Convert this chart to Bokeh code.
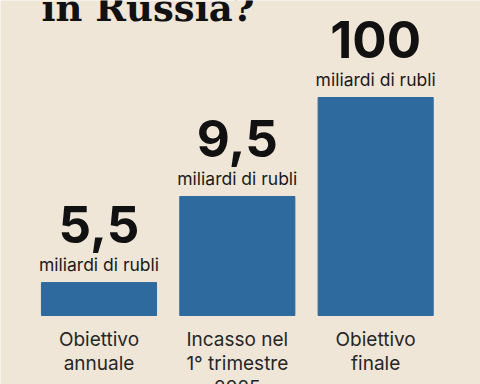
from bokeh.plotting import figure
from bokeh.models import Range1d, Label, ColumnDataSource
from bokeh.core.properties import value
from bokeh.embed import file_html
from bokeh.resources import INLINE

# Data
categories = ["Obiettivo\nannuale", "Incasso nel\n1° trimestre\n2025", "Obiettivo\nfinale"]
values = [5.5, 9.5, 100]
value_labels = ["5,5", "9,5", "100"]
unit_label = "miliardi di rubli"
# bar heights as drawn in the picture (tallest = 100)
bar_heights = [15.1, 54.6, 100]
title_visible = "in Russia?"

BG = "#f0e6d7"
BAR = "#2e6a9e"

xs = list(range(len(categories)))
src = ColumnDataSource(dict(
    x=xs, h=bar_heights, cat=categories, val=value_labels,
    unit=[unit_label] * len(xs), zero=[0] * len(xs),
))

p = figure(width=480, height=384, output_backend="svg", toolbar_location=None,
           x_range=Range1d(-0.712, 2.758), y_range=Range1d(-31.65, 144.5),
           min_border=0)
p.axis.visible = False
p.grid.visible = False
p.outline_line_color = None
p.background_fill_color = BG
p.border_fill_color = BG

p.vbar(x="x", top="h", bottom=0, width=0.832, source=src,
       fill_color=BAR, line_color=BAR)

p.text(x="x", y="h", text="unit", source=src, y_offset=-18,
       text_font=value("Inter"), text_font_size="17.5px", text_color="#1a1a1a",
       text_align="center", text_baseline="alphabetic")
p.text(x="x", y="h", text="val", source=src, y_offset=-58,
       text_font=value("Inter"), text_font_size="51px", text_font_style="bold",
       text_color="#111111", text_align="center", text_baseline="alphabetic")
p.text(x="x", y="zero", text="cat", source=src, y_offset=12,
       text_font=value("Inter"), text_font_size="19px", text_color="#262626",
       text_align="center", text_baseline="top", text_line_height=1.05)

title = Label(x=41, y=377, x_units="screen", y_units="screen", text=title_visible,
              text_font="DejaVu Serif", text_font_style="bold", text_font_size="37px",
              text_color="#111111", text_baseline="alphabetic")
p.add_layout(title)

html = file_html(p, INLINE)
html = html.replace("<body>", '<body style="margin:0;background:%s;">' % BG, 1)
open("out.html", "w").write(html)
